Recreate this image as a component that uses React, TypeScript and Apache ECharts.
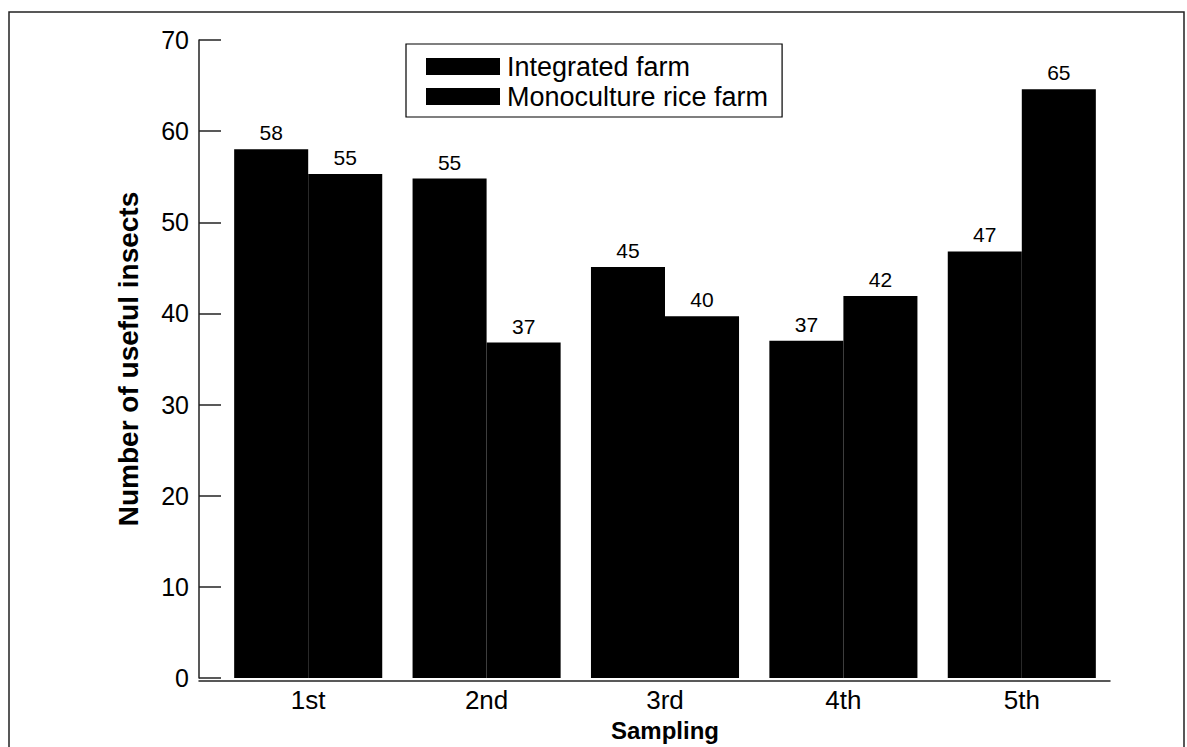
import React, { useEffect, useRef } from "react";
import * as echarts from "echarts";

const categories = ["1st", "2nd", "3rd", "4th", "5th"];
const integratedFarm = [58, 54.8, 45.1, 37, 46.8];
const monocultureRiceFarm = [55.3, 36.8, 39.7, 41.9, 64.6];
const seriesNames = ["Integrated farm", "Monoculture rice farm"];
const yTicks = { min: 0, max: 70, interval: 10 };

const FONT = "'Liberation Sans', Arial, Helvetica, sans-serif";

export default function App() {
  const ref = useRef<HTMLDivElement>(null);
  useEffect(() => {
    document.body.style.margin = "0";
    const chart = echarts.init(ref.current!, null, { renderer: "svg" });
    const labelCfg = {
      show: true,
      position: "top",
      distance: 6,
      color: "#000",
      fontFamily: FONT,
      fontSize: 21,
      formatter: (p: any) => String(Math.round(p.value)),
    };
    chart.setOption({
      animation: false,
      backgroundColor: "#fff",
      textStyle: { fontFamily: FONT, color: "#000" },
      grid: [
        { left: 219, right: 76, top: 40, bottom: 66, containLabel: false },
        { left: 199, right: 77, top: 40, bottom: 66, containLabel: false },
      ],
      legend: {
        orient: "vertical",
        left: 406,
        top: 44,
        itemWidth: 74,
        itemHeight: 17,
        itemGap: 3,
        icon: "rect",
        borderColor: "#000",
        borderWidth: 1.2,
        padding: [9, 14, 7, 20],
        textStyle: { fontFamily: FONT, fontSize: 27, color: "#000", padding: [0, 0, 0, 2] },
        data: seriesNames,
      },
      xAxis: [
        {
          type: "category",
          gridIndex: 0,
          data: categories,
          axisLine: { show: false },
          axisTick: { show: false },
          axisLabel: { color: "#000", fontFamily: FONT, fontSize: 26, margin: 9 },
          name: "Sampling",
          nameLocation: "middle",
          nameGap: 40,
          nameTextStyle: { fontFamily: FONT, fontSize: 24, fontWeight: "bold", color: "#000" },
        },
        {
          type: "value",
          gridIndex: 1,
          min: 0,
          max: 1,
          axisLine: { show: true, onZero: false, lineStyle: { color: "#222", width: 1.5 } },
          axisTick: { show: false },
          axisLabel: { show: false },
          splitLine: { show: false },
        },
      ],
      yAxis: [
        {
          type: "value",
          gridIndex: 0,
          min: yTicks.min,
          max: yTicks.max,
          interval: yTicks.interval,
          offset: 20,
          axisLine: { show: true, lineStyle: { color: "#222", width: 1.5 } },
          axisTick: { show: true, inside: true, length: 22, lineStyle: { color: "#222", width: 1.5 } },
          axisLabel: { color: "#000", fontFamily: FONT, fontSize: 25, margin: 10 },
          splitLine: { show: false },
          name: "Number of useful insects",
          nameLocation: "middle",
          nameGap: 57,
          nameTextStyle: { fontFamily: FONT, fontSize: 28, fontWeight: "bold", color: "#000" },
        },
        {
          type: "value",
          gridIndex: 1,
          show: false,
        },
      ],
      series: [
        {
          name: seriesNames[0],
          type: "bar",
          xAxisIndex: 0,
          yAxisIndex: 0,
          data: integratedFarm,
          barGap: "0%",
          barCategoryGap: "17%",
          itemStyle: { color: "#000" },
          label: labelCfg,
        },
        {
          name: seriesNames[1],
          type: "bar",
          xAxisIndex: 0,
          yAxisIndex: 0,
          data: monocultureRiceFarm,
          barGap: "0%",
          barCategoryGap: "17%",
          itemStyle: { color: "#000" },
          label: labelCfg,
        },
      ],
      graphic: [
        {
          type: "polyline",
          shape: { points: [[9, 760], [9, 12], [1184, 12], [1184, 760]] },
          style: { stroke: "#222", lineWidth: 1.5, fill: "none" },
          silent: true,
        },
      ],
    });
    return () => chart.dispose();
  }, []);
  return (
    <div style={{ position: "absolute", left: 0, top: 0 }}>
      <div ref={ref} style={{ width: 1187, height: 747 }} />
    </div>
  );
}
